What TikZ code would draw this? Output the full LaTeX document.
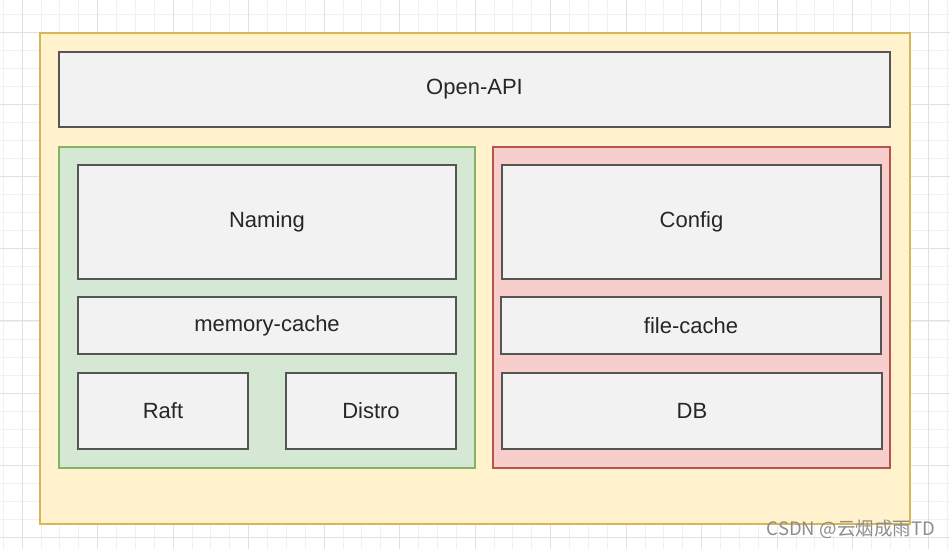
\documentclass[tikz,border=0pt]{standalone}
\usepackage{fontspec}
\setmainfont{Liberation Sans}
\newfontfamily\cjkfont{Noto Sans CJK SC}
\usetikzlibrary{positioning}
\definecolor{bgyellow}{HTML}{FFF2CC}
\definecolor{lnyellow}{HTML}{D6B656}
\definecolor{bggreen}{HTML}{D5E8D4}
\definecolor{lngreen}{HTML}{82B366}
\definecolor{bgred}{HTML}{F8CECC}
\definecolor{lnred}{HTML}{B85450}
\definecolor{bggray}{HTML}{F2F2F2}
\definecolor{lngray}{HTML}{555555}
\definecolor{gridmajor}{HTML}{E2E0E6}
\definecolor{gridminor}{HTML}{F1F0F3}

\begin{document}
\begin{tikzpicture}[
    x=1pt, y=-1pt,
    area/.style={rectangle, draw=ln#1, fill=bg#1, line width=1.3pt, inner sep=0pt, outer sep=0pt},
    area/.default=yellow,
    module/.style={rectangle, draw=lngray, fill=bggray, line width=1.3pt, inner sep=0pt, outer sep=0pt,
        align=center, text=black!85, font=\fontsize{22}{26}\selectfont},
]
\useasboundingbox (0,0) rectangle (950,549);

% Background grid
\foreach \k in {-1,...,50} {
    \draw[gridminor, line width=0.6pt] (22+18.875*\k, 0) -- (22+18.875*\k, 549);
}
\foreach \k in {-2,...,30} {
    \draw[gridminor, line width=0.6pt] (0, 32+18.05*\k) -- (950, 32+18.05*\k);
}
\foreach \k in {0,...,12} {
    \draw[gridmajor, line width=0.8pt] (22+75.5*\k, 0) -- (22+75.5*\k, 549);
}
\foreach \k in {-1,...,7} {
    \draw[gridmajor, line width=0.8pt] (0, 32+72.2*\k) -- (950, 32+72.2*\k);
}

% Containers
\node[area=yellow, minimum width=870, minimum height=491] (server) at (475,278.5) {};
\node[area=green, minimum width=416, minimum height=321] (naming_area) at (267,307.5) {};
\node[area=red, minimum width=397, minimum height=321] (config_area) at (691.5,307.5) {};

% Open API
\node[module, minimum width=831, minimum height=75] (open_api) at (474.5,89.5) {Open-API};

% Naming side
\node[module, minimum width=378, minimum height=114] (naming) at (267,222) {Naming};
\node[module, minimum width=378, minimum height=57, below=18pt of naming] (mem_cache) {memory-cache};
\node[module, minimum width=170, minimum height=76] (raft) at (163,411) {Raft};
\node[module, minimum width=170, minimum height=76] (distro) at (371,411) {Distro};

% Config side
\node[module, minimum width=379, minimum height=114] (config) at (691.5,222) {Config};
\node[module, minimum width=380, minimum height=57] (file_cache) at (691,325.5) {file-cache};
\node[module, minimum width=380, minimum height=76] (db) at (692,411) {DB};

% Watermark
\node[anchor=east, text=gray!90, font=\cjkfont\fontsize{18.5}{22}\selectfont, inner sep=0pt] (mark) at (935,529) {CSDN @云烟成雨TD};

\end{tikzpicture}
\end{document}
